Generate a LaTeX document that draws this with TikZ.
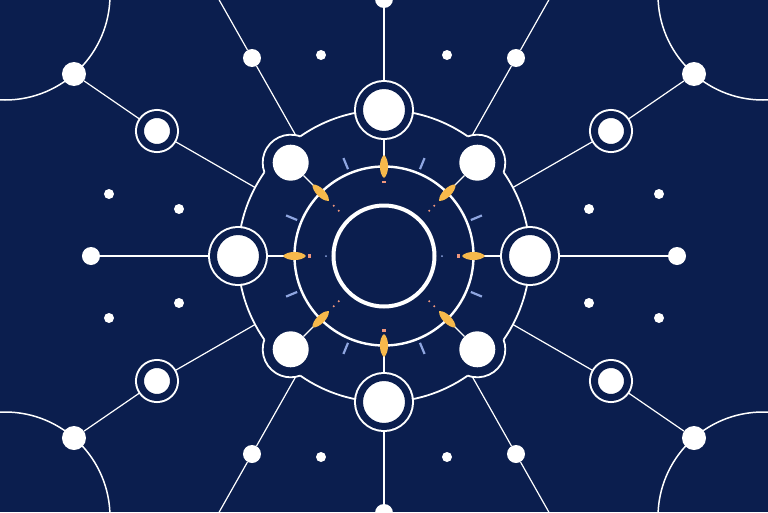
\documentclass[tikz,border=0pt]{standalone}
\usepackage{xcolor}
\usetikzlibrary{calc}
\pgfdeclarelayer{bg}
\pgfdeclarelayer{wires}
\pgfsetlayers{bg,wires,main}
\definecolor{bgnavy}{RGB}{11,30,78}
\definecolor{flame}{RGB}{247,185,75}
\definecolor{frost}{RGB}{143,166,225}
\definecolor{ember}{RGB}{238,150,125}

\begin{document}
\begin{tikzpicture}[x=1pt,y=1pt]
        \tikzset{
    hub/.style={circle, fill=white, draw=white, double=bgnavy, double distance=7pt, line width=2pt, minimum size=49pt, inner sep=0pt},
    relay/.style={circle, fill=white, draw=white, double=bgnavy, double distance=7pt, line width=2pt, minimum size=33pt, inner sep=0pt},
    sat/.style={circle, fill=white, minimum size=#1, inner sep=0pt},
    wire/.style={white, line width=1.2pt},
    orbit/.style={white, line width=1.8pt},
    lens/.style={fill=flame},
    notch/.style={frost, line width=2.2pt},
        }
        \useasboundingbox (-384,-256) rectangle (384,256);
        \begin{pgfonlayer}{bg}
          \fill[bgnavy] (-384,-256) rectangle (384,256);
        \end{pgfonlayer}
        \clip (-384,-256) rectangle (384,256);

        % Inner rings first.
        \draw[white, line width=4pt] (0,0) circle (50.5);
        \draw[white, line width=2.4pt] (0,0) circle (89.5);
        \foreach \t in {22.5,67.5,...,337.5}
          \draw[notch] (\t:94) -- (\t:106);

        % The orbit, broken where it bends round the diagonal nodes.
        \foreach \a in {0,90,180,270}
          \draw[orbit] ({\a-35}:146) arc[start angle=\a-35, end angle=\a+35, radius=146];

        % Corner rings.
        \foreach \sx/\sy in {-1/1,1/1,-1/-1,1/-1}
          \draw[orbit, line width=1.5pt] (\sx*379,\sy*261) circle (105);

        % Lenses on the middle ring.
        \foreach \t in {0,45,...,315} {
          \begin{scope}[rotate=\t]
            \fill[lens] (78,0) .. controls (82,5.4) and (97,5.4) .. (101,0)
                               .. controls (97,-5.4) and (82,-5.4) .. (78,0);
          \end{scope}
        }
        \foreach \t in {0,90,180,270}
          \fill[ember, rotate=\t] (73,-2) rectangle (75.5,2);
        \foreach \t in {45,135,225,315} {
          \fill[ember] (\t:64) circle (1.1);
          \fill[ember] (\t:71) circle (1.1);
        }
        \fill[frost] (58,0) circle (1);
        \fill[frost] (-58,0) circle (1);

        % Hubs on the orbit and the ends of their spokes.
        \node[hub] (hT) at (0,146) {};
        \node[hub] (hB) at (0,-146) {};
        \node[hub] (hL) at (-146,0) {};
        \node[hub] (hR) at (146,0) {};
        \node[sat=18pt] (tipT) at (0,257) {};
        \node[sat=18pt] (tipB) at (0,-257) {};
        \node[sat=18pt] (tipL) at (-293,0) {};
        \node[sat=18pt] (tipR) at (293,0) {};
        \foreach \n/\t in {T/90,B/270,L/180,R/0}
          \coordinate (l\n) at (\t:100);

        % One quarter at a time: a = top left, b = top right, c = bottom left, d = bottom right.
        \foreach \q/\sx/\sy/\t in {a/-1/1/135, b/1/1/45, c/-1/-1/225, d/1/-1/315} {
          \node[sat=36pt] (d\q) at (\sx*93.3,\sy*93.3) {};
          \node[relay] (r\q) at (\sx*227,\sy*125) {};
          \node[sat=24pt] (k\q) at (\sx*310,\sy*182) {};
          \node[sat=18pt] (s\q) at (\sx*132,\sy*198) {};
          \coordinate (b\q) at (\sx*88.4,\sy*120.9); % foot of the outer spoke
          \coordinate (c\q) at (\sx*128.9,\sy*68.5); % spoke meets the orbit
          \coordinate (e\q) at ($(b\q)!2.4!(s\q)$);
          \coordinate (l\q) at (\t:100);
          \draw[orbit] (d\q.center) ++({\t-65.1}:28) arc[start angle=\t-65.1, end angle=\t+65.1, radius=28];
        }

        % Loose dots.
        \foreach \x/\y/\m in {63/201/u, 205/47/v, 275/62/w}
          \foreach \sx/\sy/\q in {-1/1/a, 1/1/b, -1/-1/c, 1/-1/d}
            \node[sat=10pt] (dot\m\q) at (\sx*\x,\sy*\y) {};

        % Spokes, behind the nodes.
        \begin{pgfonlayer}{wires}
          \foreach \n in {T,B,L,R}
            \draw[wire] (tip\n) -- (h\n) -- (l\n);
          \foreach \q in {a,b,c,d} {
            \draw[wire] (k\q) -- (r\q) -- (c\q);
            \draw[wire] (e\q) -- (s\q) -- (b\q);
            \draw[wire] (d\q) -- (l\q);
          }
        \end{pgfonlayer}
      \end{tikzpicture}
\end{document}
